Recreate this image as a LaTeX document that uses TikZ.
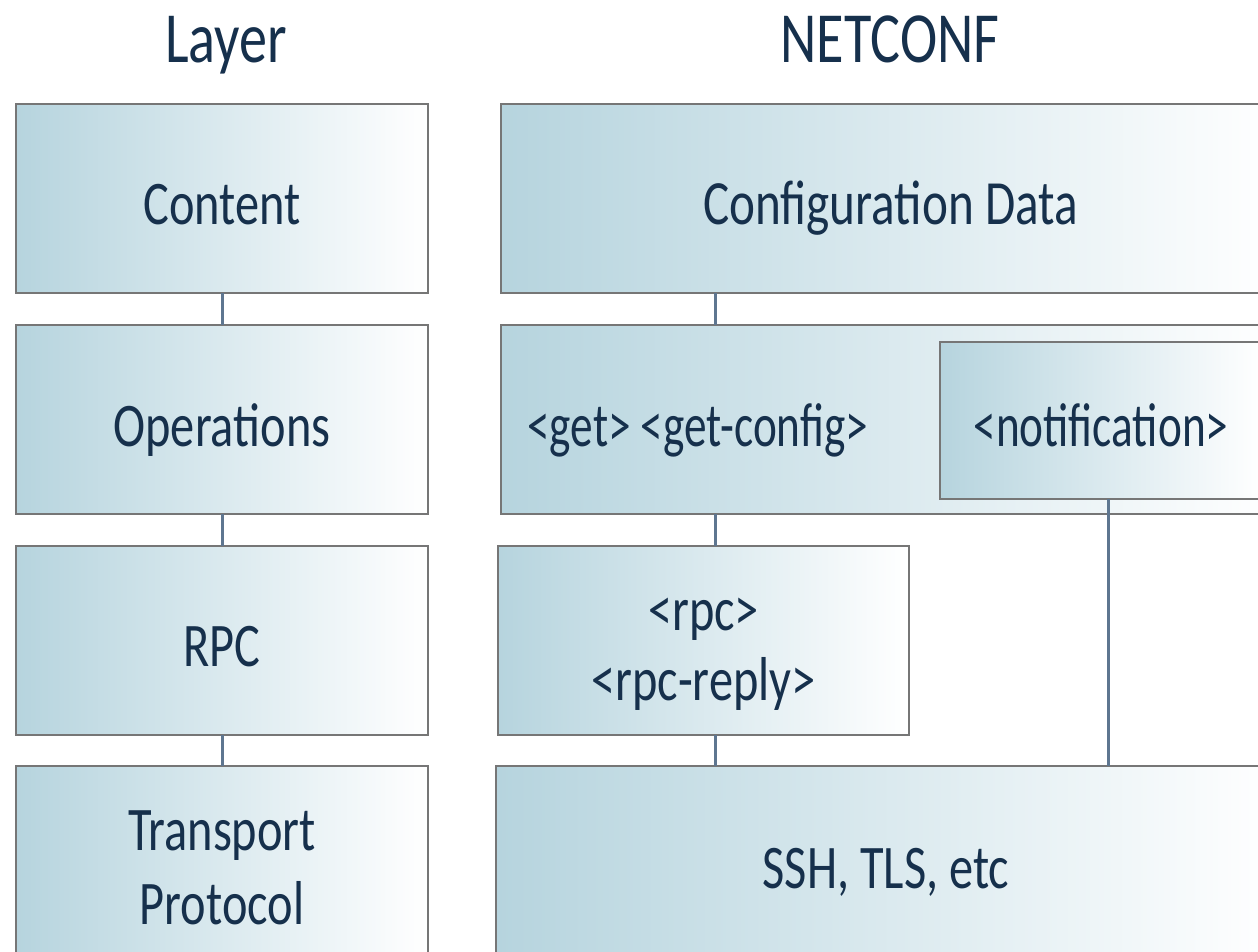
\documentclass[tikz,border=0pt]{standalone}
\usepackage{fontspec}
\setmainfont{Carlito}[FakeStretch=0.78]
\newfontfamily\tagfont{Carlito}[FakeStretch=0.73]

\definecolor{boxleft}{HTML}{B6D4DE}
\definecolor{boxline}{HTML}{767676}
\definecolor{ink}{HTML}{16304C}
\definecolor{wire}{HTML}{5E7690}

\tikzset{
  layerbox/.style={draw=boxline, line width=2.6pt, left color=boxleft,
    right color=white, rectangle, inner sep=0pt, outer sep=0pt},
  wirestyle/.style={draw=wire, line width=3pt},
  lbl/.style={text=ink, font=\fontsize{62}{70}\selectfont, inner sep=0pt,
    anchor=base, align=center},
  heading/.style={text=ink, font=\fontsize{72}{80}\selectfont, inner sep=0pt,
    anchor=base},
}

\begin{document}
\begin{tikzpicture}[x=1pt, y=-1pt]
  \useasboundingbox (0,0) rectangle (1258,952);
  \clip (0,0) rectangle (1258,952);

  % column headings
  \node[heading] (hlayer) at (226,63) {Layer};
  \node[heading] (hnetconf) at (890,63) {NETCONF};

  % left column: generic layers
  \node[layerbox, minimum width=412pt, minimum height=189pt] (content) at (222,198.5) {};
  \node[layerbox, minimum width=412pt, minimum height=189pt] (ops) at (222,419.5) {};
  \node[layerbox, minimum width=412pt, minimum height=189pt] (rpc) at (222,640.5) {};
  \node[layerbox, minimum width=412pt, minimum height=194pt] (transport) at (222,863) {};

  % right column: NETCONF realisation
  \node[layerbox, minimum width=775pt, minimum height=189pt] (cfg) at (888.5,198.5) {};
  \node[layerbox, minimum width=775pt, minimum height=189pt] (getops) at (888.5,419.5) {};
  \node[layerbox, minimum width=322pt, minimum height=157pt] (notif) at (1101,420.5) {};
  \node[layerbox, minimum width=411pt, minimum height=189pt] (rpcmsg) at (703.5,640.5) {};
  \node[layerbox, minimum width=780pt, minimum height=194pt] (ssh) at (886,863) {};

  % labels (multi-line nodes are anchored on the baseline of their last line)
  \node[lbl, yshift=-26.5pt] (tcontent) at (content.center) {Content};
  \node[lbl, yshift=-27pt] (tops) at (ops.center) {Operations};
  \node[lbl, yshift=-26pt] (trpc) at (rpc.center) {RPC};
  \node[lbl, yshift=-61pt, font=\fontsize{62}{74}\selectfont] (ttransport) at (transport.center) {Transport\\Protocol};
  \node[lbl, yshift=-26.5pt, xshift=2pt, font=\fontsize{63}{70}\selectfont] (tcfg) at (cfg.center) {Configuration Data};
  \node[lbl, anchor=base west, xshift=26pt, yshift=-26.5pt, font=\tagfont\fontsize{62}{70}\selectfont] (tgetops) at (getops.west) {<get> <get-config>};
  \node[lbl, yshift=-25.5pt, font=\tagfont\fontsize{62}{70}\selectfont] (tnotif) at (notif.center) {<notification>};
  \node[lbl, yshift=-59.5pt] (trpcmsg) at (rpcmsg.center) {<rpc>\\<rpc-reply>};
  \node[lbl, yshift=-25pt] (tssh) at (ssh.center) {SSH, TLS, etc};

  % connectors
  \coordinate (trunk) at (715,0);
  \coordinate (notifdrop) at (1108,0);
  \draw[wirestyle] (content.south) -- (ops.north);
  \draw[wirestyle] (ops.south) -- (rpc.north);
  \draw[wirestyle] (rpc.south) -- (transport.north);
  \draw[wirestyle] (cfg.south -| trunk) -- (getops.north -| trunk);
  \draw[wirestyle] (getops.south -| trunk) -- (rpcmsg.north -| trunk);
  \draw[wirestyle] (rpcmsg.south -| trunk) -- (ssh.north -| trunk);
  \draw[wirestyle] (notif.south -| notifdrop) -- (ssh.north -| notifdrop);
\end{tikzpicture}
\end{document}
